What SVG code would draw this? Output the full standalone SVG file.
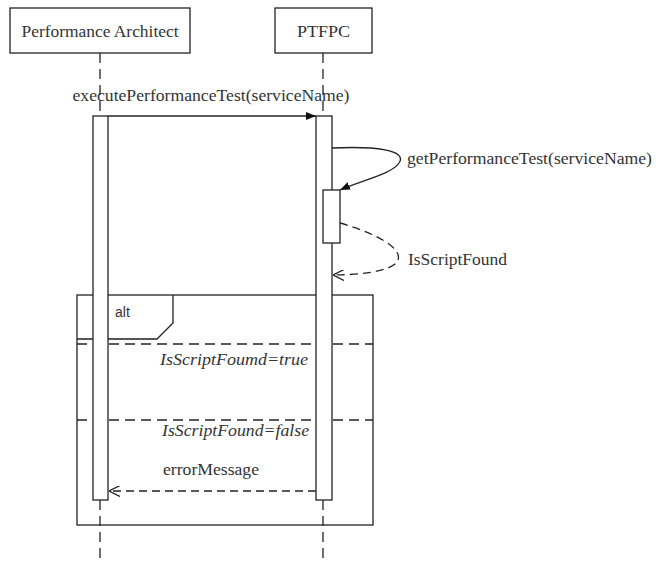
<svg xmlns="http://www.w3.org/2000/svg" width="658" height="561" viewBox="0 0 658 561">
<style>
.box{fill:#fff;stroke:#222;stroke-width:1.3}
.life{stroke:#222;stroke-width:1.3;stroke-dasharray:10 6;fill:none}
.msg{stroke:#222;stroke-width:1.3;fill:none}
.ret{stroke:#222;stroke-width:1.3;fill:none;stroke-dasharray:8 5}
.frame{fill:none;stroke:#222;stroke-width:1.3}
.sep{stroke:#222;stroke-width:1.3;stroke-dasharray:10 6;fill:none}
text{font-family:"Liberation Serif","Times New Roman",serif;font-size:16px;fill:#333}
.it{font-style:italic}
.sans{font-family:"Liberation Sans",Arial,sans-serif;font-size:14px}
</style>
<defs>
<marker id="filled" viewBox="0 0 10 10" refX="10" refY="5" markerWidth="10" markerHeight="10" markerUnits="userSpaceOnUse" orient="auto">
<path d="M0,1 L10,5 L0,9 z" fill="#111"/>
</marker>
<marker id="open" viewBox="0 0 10 10" refX="10" refY="5" markerWidth="11" markerHeight="11" markerUnits="userSpaceOnUse" orient="auto">
<path d="M0,0 L10,5 L0,10" fill="none" stroke="#222" stroke-width="1.2"/>
</marker>
</defs>
<rect width="658" height="561" fill="#fff"/>
<g id="lifelines">
<line class="life" x1="100" y1="53" x2="100" y2="116"/>
<line class="life" x1="100" y1="500" x2="100" y2="561"/>
<line class="life" x1="323" y1="53" x2="323" y2="116"/>
<line class="life" x1="323" y1="500" x2="323" y2="561"/>
</g>
<g id="actor-performance-architect">
<rect class="box" x="10" y="8" width="180" height="45"/>
<text x="100" y="37" text-anchor="middle" textLength="157" lengthAdjust="spacingAndGlyphs">Performance Architect</text>
</g>
<g id="actor-ptfpc">
<rect class="box" x="275" y="8" width="97" height="45"/>
<text x="323.5" y="37" text-anchor="middle" textLength="53" lengthAdjust="spacingAndGlyphs">PTFPC</text>
</g>
<g id="alt-frame">
<rect class="frame" x="77" y="295" width="296" height="230"/>
<path class="frame" d="M77,339 H157 L173,323 V295"/>
<text class="sans" x="115" y="317">alt</text>
<line class="sep" x1="77" y1="344" x2="373" y2="344"/>
<text class="it" x="308" y="365" text-anchor="end" textLength="148" lengthAdjust="spacingAndGlyphs">IsScriptFoumd=true</text>
<line class="sep" x1="77" y1="420" x2="373" y2="420"/>
<text class="it" x="309" y="436" text-anchor="end" textLength="147" lengthAdjust="spacingAndGlyphs">IsScriptFound=false</text>
</g>
<g id="activation-architect">
<rect class="box" x="93" y="116" width="15" height="384"/>
</g>
<g id="activation-ptfpc">
<rect class="box" x="316" y="116" width="16" height="384"/>
</g>
<g id="activation-ptfpc-nested">
<rect class="box" x="323" y="190" width="17" height="53"/>
</g>
<g id="connectors">
<line class="msg" x1="108" y1="116" x2="316" y2="116" marker-end="url(#filled)"/>
<path class="msg" d="M332,148 C375,146 408,150 399,163 C392,174 362,180 340,190" marker-end="url(#filled)"/>
<path class="ret" d="M340,223 C372,232 406,248 397,262 C390,272 356,275 333,275" marker-end="url(#open)"/>
<line class="ret" x1="316" y1="491" x2="109" y2="491" marker-end="url(#open)"/>
</g>
<g id="labels">
<text x="211" y="101" text-anchor="middle" textLength="277" lengthAdjust="spacingAndGlyphs">executePerformanceTest(serviceName)</text>
<text x="407" y="164" textLength="245" lengthAdjust="spacingAndGlyphs">getPerformanceTest(serviceName)</text>
<text x="408" y="265" textLength="99" lengthAdjust="spacingAndGlyphs">IsScriptFound</text>
<text x="163" y="475" textLength="96" lengthAdjust="spacingAndGlyphs">errorMessage</text>
</g>
</svg>
